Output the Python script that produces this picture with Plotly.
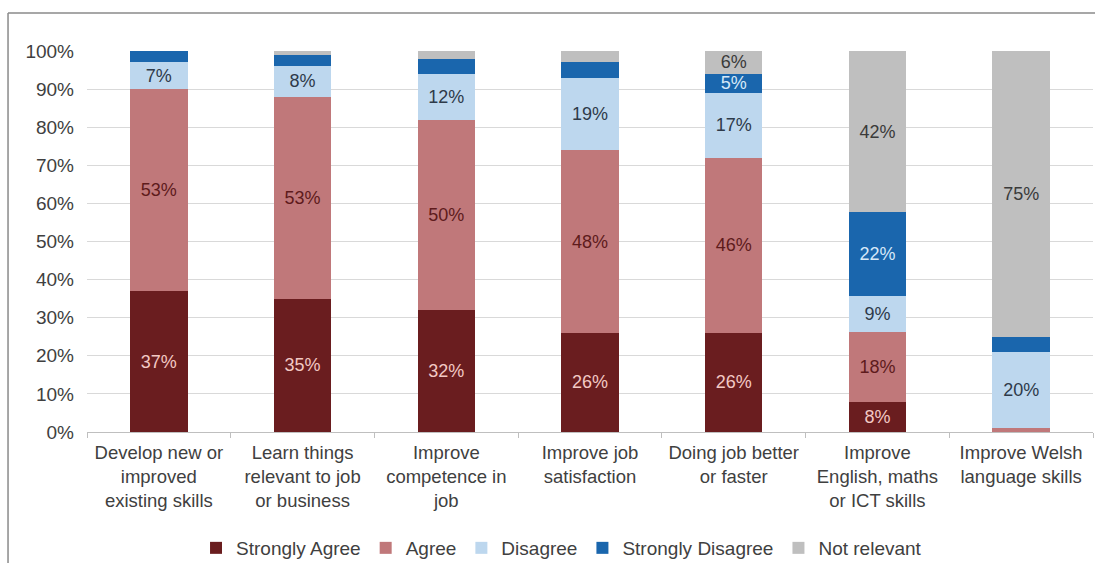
import plotly.graph_objects as go

# Survey responses: perceived benefits of training (% of respondents)
categories = [
    "Develop new or<br>improved<br>existing skills",
    "Learn things<br>relevant to job<br>or business",
    "Improve<br>competence in<br>job",
    "Improve job<br>satisfaction",
    "Doing job better<br>or faster",
    "Improve<br>English, maths<br>or ICT skills",
    "Improve Welsh<br>language skills",
]

strongly_agree = [37, 35, 32, 26, 26, 8, 0]
agree = [53, 53, 50, 48, 46, 18.3, 1]
disagree = [7, 8, 12, 19, 17, 9.4, 20]
strongly_disagree = [3, 3, 4, 4, 5, 22, 4]
not_relevant = [0, 1, 2, 3, 6, 42.3, 75]

# which segments carry a value label
show_sa = [1, 1, 1, 1, 1, 1, 0]
show_a = [1, 1, 1, 1, 1, 1, 0]
show_d = [1, 1, 1, 1, 1, 1, 1]
show_sd = [0, 0, 0, 0, 1, 1, 0]
show_nr = [0, 0, 0, 0, 1, 1, 1]

y_ticks = [0, 10, 20, 30, 40, 50, 60, 70, 80, 90, 100]
y_tick_labels = [f"{v}%" for v in y_ticks]

series = [
    ("Strongly Agree", strongly_agree, show_sa, "#6a1d1f", "#f3c9c4"),
    ("Agree", agree, show_a, "#c0787a", "#5e1b1c"),
    ("Disagree", disagree, show_d, "#bdd7ee", "#2e3a4a"),
    ("Strongly Disagree", strongly_disagree, show_sd, "#1a66ad", "#d6e8f8"),
    ("Not relevant", not_relevant, show_nr, "#bfbfbf", "#3a3a3a"),
]

FONT = "Liberation Sans, Arial, sans-serif"
TEXT = "#404040"

fig = go.Figure()
for name, vals, show, color, tcolor in series:
    fig.add_trace(go.Bar(
        name=name,
        x=categories,
        y=vals,
        marker=dict(color=color, line=dict(width=0)),
        texttemplate=["%{y:.0f}%" if s else "" for s in show],
        textposition="inside",
        insidetextanchor="middle",
        textangle=0,
        textfont=dict(family=FONT, size=18, color=tcolor),
        hoverinfo="skip",
    ))

# outer frame around the chart
frame = dict(type="line", xref="paper", yref="paper",
             line=dict(color="#8a8a8a", width=1.5), layer="above")
fig.add_shape(**frame, x0=-0.0785, x1=1.05, y0=1.0997, y1=1.0997)
fig.add_shape(**frame, x0=-0.0785, x1=-0.0785, y0=1.0997, y1=-0.40)

fig.update_layout(
    width=1095,
    height=563,
    margin=dict(l=87, r=2, t=51, b=131, autoexpand=False),
    paper_bgcolor="white",
    plot_bgcolor="white",
    barmode="stack",
    bargap=0.6,
    font=dict(family=FONT, size=19, color=TEXT),
    uniformtext=dict(minsize=18, mode="show"),
    showlegend=True,
    legend=dict(
        orientation="h",
        x=0.4717, xanchor="center",
        yref="container",
        y=(563 - 548) / 563, yanchor="middle",
        font=dict(family=FONT, size=19, color=TEXT),
        itemwidth=30,
        traceorder="normal",
    ),
    xaxis=dict(
        showgrid=False,
        showline=True,
        linecolor="#bfbfbf",
        linewidth=1,
        ticks="outside",
        tickson="boundaries",
        ticklen=5,
        tickcolor="#bfbfbf",
        ticklabelstandoff=4,
        tickfont=dict(family=FONT, size=18.5, color=TEXT),
        automargin=False,
        fixedrange=True,
    ),
    yaxis=dict(
        range=[0, 100],
        tickmode="array",
        tickvals=y_ticks,
        ticktext=y_tick_labels,
        showgrid=True,
        gridcolor="#d9d9d9",
        gridwidth=1,
        zeroline=False,
        showline=False,
        ticks="",
        ticklabelstandoff=12,
        tickfont=dict(family=FONT, size=19, color=TEXT),
        automargin=False,
        fixedrange=True,
    ),
)

fig.write_html("out.html")
